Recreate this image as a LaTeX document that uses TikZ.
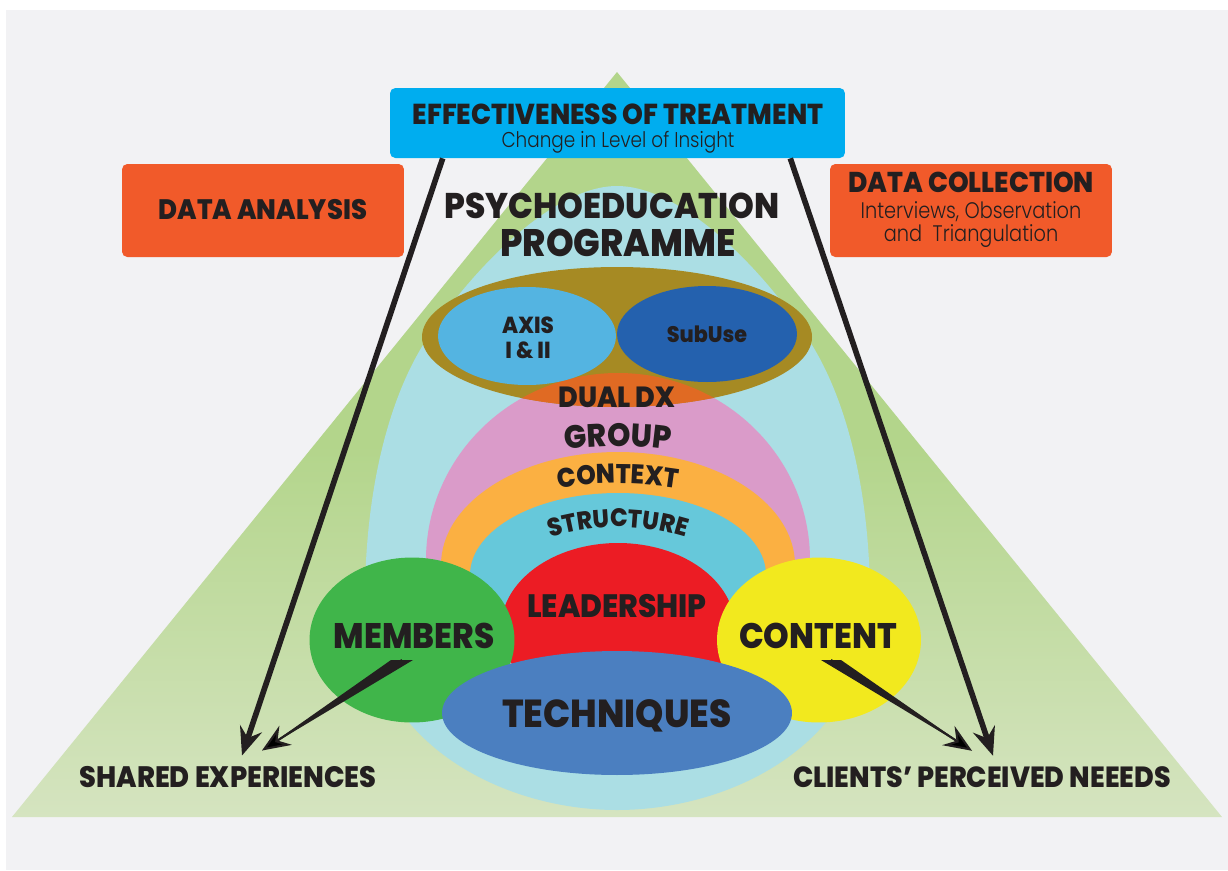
\documentclass[tikz,border=0pt]{standalone}
\usepackage{fontspec}
\setmainfont{Poppins}
\newfontfamily\heavyfont{Poppins ExtraBold}[FakeStretch=0.92]
\newfontfamily\litefont{Poppins Light}[FakeStretch=0.86]
\newcommand\bendsize{16pt}
\newcommand\bendfont{\heavyfont\fontsize{\bendsize}{\bendsize}\selectfont}
\usetikzlibrary{shapes.geometric,arrows.meta,decorations.text}

\definecolor{ink}{HTML}{231F20}
\definecolor{paper}{HTML}{F2F2F4}
\definecolor{trigreen}{HTML}{B3D58B}
\definecolor{trilight}{HTML}{D5E4C0}
\definecolor{eggblue}{HTML}{ABDEE4}
\definecolor{olive}{HTML}{A68A23}
\definecolor{axisblue}{HTML}{54B4E1}
\definecolor{subblue}{HTML}{2461AE}
\definecolor{dualorange}{HTML}{E06A23}
\definecolor{grouppink}{HTML}{DA9BC9}
\definecolor{ctxorange}{HTML}{FBB042}
\definecolor{structcyan}{HTML}{66C8DA}
\definecolor{leadred}{HTML}{EC1C24}
\definecolor{memgreen}{HTML}{40B54A}
\definecolor{contyellow}{HTML}{F2E91E}
\definecolor{techblue}{HTML}{4B7FC0}
\definecolor{boxblue}{HTML}{00ADEF}
\definecolor{boxorange}{HTML}{F15A2A}

\tikzset{
    lbl/.style={inner sep=0pt, text=ink, anchor=base, font=\heavyfont\fontsize{#1pt}{#1pt}\selectfont},
    note/.style={inner sep=0pt, text=ink, anchor=base, font=\litefont\fontsize{#1pt}{#1pt}\selectfont},
    card/.style={rectangle, rounded corners=3pt, fill=#1, inner sep=0pt},
    blob/.style={ellipse, fill=#1, inner sep=0pt},
    bend/.style 2 args={/utils/exec={\renewcommand\bendsize{#1pt}}, decorate,
        decoration={text along path, text align=center, text color=ink, text={|\bendfont|#2}}},
    longarrow/.style={draw=ink, line width=3.2pt, -{Stealth[length=16pt, width=13pt, inset=5.5pt]}},
    wedgetip/.style={draw=ink, line width=1.2pt, -{Stealth[length=16pt, width=13pt, inset=5.5pt]}},
}

\begin{document}
\begin{tikzpicture}[x=0.02cm, y=-0.02cm]
    \useasboundingbox (0,0) rectangle (1228,870);
    \fill[white] (0,0) rectangle (1228,870);
    \fill[paper] (6,10) rectangle (1228,870);
    %
    % pyramid and the programme egg
    \shade[top color=trigreen, bottom color=trilight, middle color=trigreen] (617,72) -- (1222,817) -- (12,817) -- cycle;
    \fill[eggblue] (617,186) .. controls (545,186) and (455,290) .. (420,350)
        .. controls (385,410) and (365,500) .. (365,600)
        .. controls (365,740) and (500,810) .. (617,810)
        .. controls (735,810) and (870,740) .. (870,600)
        .. controls (870,500) and (850,410) .. (815,350)
        .. controls (780,290) and (690,186) .. (617,186) -- cycle;
    %
    % group arch and dual diagnosis
    \fill[grouppink] (618,560) ellipse [x radius=192, y radius=187];
    \fill[olive] (617,337) ellipse [x radius=195, y radius=70];
    \begin{scope}
        \clip (617,337) ellipse [x radius=195, y radius=70];
        \fill[dualorange] (618,560) ellipse [x radius=192, y radius=187];
    \end{scope}
    \node[blob=axisblue, minimum width=3.56cm, minimum height=1.96cm] (axis) at (527,336) {};
    \node[blob=subblue, minimum width=3.6cm, minimum height=1.92cm] (subuse) at (707,334) {};
    \fill[ctxorange] (618,565) ellipse [x radius=177, y radius=113];
    \fill[structcyan] (618,575) ellipse [x radius=148, y radius=82];
    \fill[leadred] (618,628) ellipse [x radius=117, y radius=85];
    %
    \node[blob=memgreen, minimum width=4.1cm, minimum height=3.3cm] (members) at (412,640) {};
    \node[blob=contyellow, minimum width=4.08cm, minimum height=3.3cm] (content) at (819,640) {};
    \node[blob=techblue, minimum width=7cm, minimum height=2.48cm] (techniques) at (617,713) {};
    %
    \node[lbl=20.3] (psy) at (612,218) {PSYCHOEDUCATION};
    \node[lbl=21.8] (prog) at (618,256) {PROGRAMME};
    \node[lbl=13.2] (axis1) at (528,333) {AXIS};
    \node[lbl=13.2] (axis2) at (528,358) {I \& II};
    \node[lbl=12.8] (subtxt) at (707,342) {SubUse};
    \node[lbl=16.6] (dualtxt) at (617,407) {DUAL DX};
    \path[bend={18.4}{GROUP}] (535,456) .. controls (585,443) and (651,443) .. (701,456);
    \path[bend={15.4}{CONTEXT}] (520,497) .. controls (580,479) and (656,479) .. (716,497);
    \path[bend={14.4}{STRUCTURE}] (510,554) .. controls (580,518) and (656,518) .. (726,554);
    \node[lbl=18.4] (leadtxt) at (617,617) {LEADERSHIP};
    \node[lbl=20.2] (memtxt) at (414,648) {MEMBERS};
    \node[lbl=20.2] (conttxt) at (818,648) {CONTENT};
    \node[lbl=22.2] (techtxt) at (617,727) {TECHNIQUES};
    \node[lbl=16.8] (shared) at (228,787) {SHARED EXPERIENCES};
    \node[lbl=16.6] (needs) at (982,787) {CLIENTS’ PERCEIVED NEEEDS};
    %
    % study boxes
    \node[card=boxblue, minimum width=9.1cm, minimum height=1.4cm] (effect) at (617.5,123) {};
    \node[lbl=16.4] (efftitle) at (618,124) {EFFECTIVENESS OF TREATMENT};
    \node[note=12.2] (effsub) at (618,147) {Change in Level of Insight};
    \node[card=boxorange, minimum width=5.64cm, minimum height=1.86cm] (analysis) at (263,210.5) {};
    \node[lbl=16] (analtxt) at (263,219) {DATA ANALYSIS};
    \node[card=boxorange, minimum width=5.64cm, minimum height=1.86cm] (collect) at (971,210.5) {};
    \node[lbl=16.3] (colltxt) at (971,192) {DATA COLLECTION};
    \node[note=12.8] (coll1) at (971,218) {Interviews, Observation};
    \node[note=12.8] (coll2) at (971,241) {and~ Triangulation};
    %
    % arrows
    \draw[longarrow] ([shift={(53,0)}]effect.south west) -- ([shift={(14,-10)}]shared.north);
    \draw[longarrow] ([shift={(-55,0)}]effect.south east) -- ([shift={(11,-10)}]needs.north);
    \coordinate (mfrom) at ([shift={(-12,12)}]memtxt.base);
    \coordinate (mto) at ([shift={(34,-15)}]shared.north);
    \coordinate (cfrom) at ([shift={(13,12)}]conttxt.base);
    \coordinate (cto) at ([shift={(-10,-15)}]needs.north);
    \fill[ink] ([xshift=-0.22cm]mfrom) -- ([xshift=0.22cm]mfrom) -- (mto) -- cycle;
    \draw[wedgetip] (mfrom) -- (mto);
    \fill[ink] ([xshift=-0.2cm]cfrom) -- ([xshift=0.2cm]cfrom) -- (cto) -- cycle;
    \draw[wedgetip] (cfrom) -- (cto);
\end{tikzpicture}
\end{document}
